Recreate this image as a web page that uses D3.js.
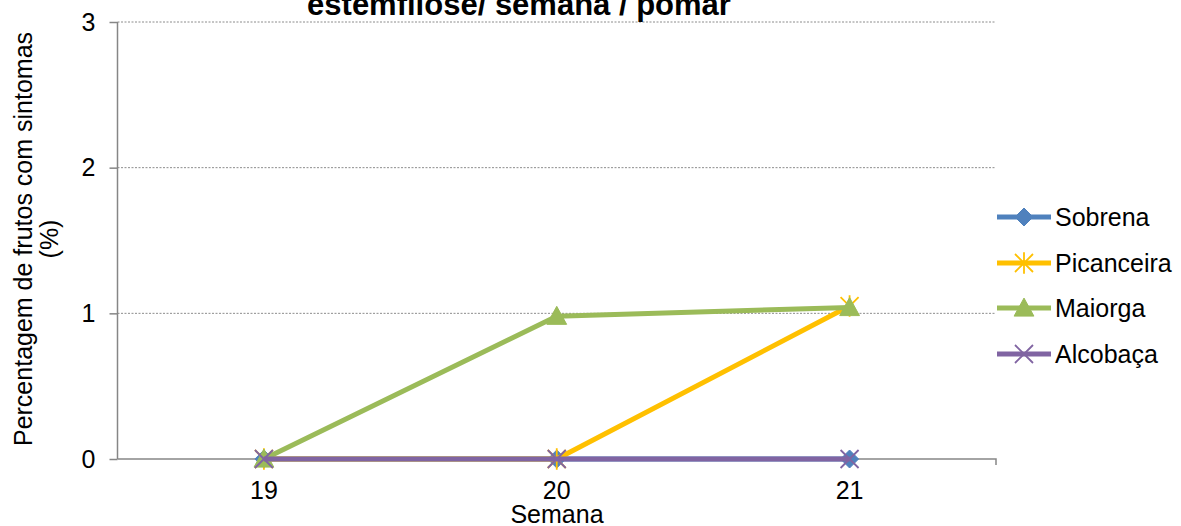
<!DOCTYPE html>
<html>
<head>
<meta charset="utf-8">
<script src="https://cdn.jsdelivr.net/npm/d3@7"></script>
<style>
  body { margin: 0; background: #fff; }
  svg { font-family: "Liberation Sans", Arial, sans-serif; }
</style>
</head>
<body>
<svg id="canvas"></svg>
<script>
const weeks = ["19", "20", "21"];
const seriesNames = ["Sobrena", "Picanceira", "Maiorga", "Alcobaça"];
const sobrena = [0, 0, 0];
const picanceira = [0, 0, 1.05];
const maiorga = [0, 0.98, 1.04];
const alcobaca = [0, 0, 0];
const yTicks = [0, 1, 2, 3];

const colors = ["#4F81BD", "#FFC000", "#9BBB59", "#8064A2"];
const shapes = ["diamond", "star", "triangle", "x"];

const width = 1181;
const height = 526;
const plotLeft = 117.5, plotRight = 996, plotTop = 22, plotBottom = 459;
const fontSize = 25;

const canvas = d3.select("#canvas").attr("width", width).attr("height", height);

const xScale = d3.scaleBand().domain(weeks).range([plotLeft, plotRight]);
const yScale = d3.scaleLinear().domain([0, 3]).range([plotBottom, plotTop]);

// gridlines
canvas.append("g")
  .selectAll("line")
  .data(yTicks.filter((d) => d > 0))
  .enter()
  .append("line")
  .attr("x1", plotLeft)
  .attr("x2", plotRight)
  .attr("y1", (d) => yScale(d))
  .attr("y2", (d) => yScale(d))
  .attr("stroke", "#8c8c8c")
  .attr("stroke-width", 1)
  .attr("stroke-dasharray", "2,1.5");

// y axis
const yAxis = d3.axisLeft(yScale).tickValues(yTicks).tickSize(8).tickPadding(14).tickFormat(d3.format("d"));
const yG = canvas.append("g").attr("transform", `translate(${plotLeft}, 0)`).call(yAxis);
yG.select(".domain").attr("stroke", "#868686").attr("stroke-width", 1.5).attr("d", `M0,${plotTop}V${plotBottom}`);
yG.selectAll(".tick line").attr("stroke", "#868686").attr("stroke-width", 1.5);
yG.selectAll(".tick text").attr("font-size", fontSize).attr("fill", "#000").attr("font-family", "Liberation Sans, Arial");

// x axis
const xAxis = d3.axisBottom(xScale).tickSize(0).tickPadding(22);
const xG = canvas.append("g").attr("transform", `translate(0, ${plotBottom})`).call(xAxis);
xG.select(".domain").attr("stroke", "#868686").attr("stroke-width", 1.5).attr("d", `M${plotLeft},0H${plotRight}V6`);
xG.selectAll(".tick text").attr("font-size", fontSize).attr("fill", "#000").attr("font-family", "Liberation Sans, Arial");

// markers
const symbolPath = (shape, size) => {
  const s = size;
  if (shape === "diamond") return `M0,${-s}L${s},0L0,${s}L${-s},0Z`;
  if (shape === "triangle") return `M0,${-s * 1.1}L${s * 1.1},${s * 0.9}L${-s * 1.1},${s * 0.9}Z`;
  if (shape === "x") return `M${-s},${-s}L${s},${s}M${-s},${s}L${s},${-s}`;
  if (shape === "star") return `M${-s},${-s}L${s},${s}M${-s},${s}L${s},${-s}M0,${-s * 1.2}V${s * 1.2}`;
};

const seriesData = [sobrena, picanceira, maiorga, alcobaca];
const line = d3.line()
  .x((d, i) => xScale(weeks[i]) + xScale.bandwidth() / 2)
  .y((d) => yScale(d));

const drawMarker = (sel, k) => {
  sel.attr("d", symbolPath(shapes[k], 9))
    .attr("fill", shapes[k] === "x" || shapes[k] === "star" ? "none" : colors[k])
    .attr("stroke", colors[k])
    .attr("stroke-width", shapes[k] === "x" || shapes[k] === "star" ? 1.8 : 1);
};

seriesData.forEach((values, k) => {
  const g = canvas.append("g");
  g.append("path")
    .datum(values)
    .attr("d", line)
    .attr("fill", "none")
    .attr("stroke", colors[k])
    .attr("stroke-width", 5)
    .attr("stroke-linejoin", "round");
  g.selectAll(".mark")
    .data(values)
    .enter()
    .append("path")
    .attr("transform", (d, i) => `translate(${xScale(weeks[i]) + xScale.bandwidth() / 2}, ${yScale(d)})`)
    .call(drawMarker, k);
});

// legend
const legend = canvas.append("g");
const legendY = [217, 263, 308, 354];
seriesNames.forEach((name, k) => {
  const row = legend.append("g").attr("transform", `translate(0, ${legendY[k]})`);
  row.append("line")
    .attr("x1", 997).attr("x2", 1051)
    .attr("stroke", colors[k]).attr("stroke-width", 5);
  row.append("path")
    .attr("transform", "translate(1024, 0)")
    .call(drawMarker, k);
  row.append("text")
    .attr("x", 1055).attr("y", 9)
    .attr("font-size", fontSize)
    .text(name);
});

// title (only its second line shows)
canvas.append("text")
  .attr("x", 519).attr("y", 15)
  .attr("text-anchor", "middle")
  .attr("font-size", 31)
  .attr("font-weight", "bold")
  .text("estemfilose/ semana / pomar");

// axis titles
canvas.append("text")
  .attr("x", 557).attr("y", 523)
  .attr("text-anchor", "middle")
  .attr("font-size", fontSize)
  .text("Semana");

const yTitle = canvas.append("text")
  .attr("transform", "translate(0, 239) rotate(-90)")
  .attr("text-anchor", "middle")
  .attr("font-size", fontSize);
yTitle.append("tspan").attr("x", 0).attr("y", 32).text("Percentagem de frutos com sintomas");
yTitle.append("tspan").attr("x", 0).attr("y", 58).text("(%)");
</script>
</body>
</html>
